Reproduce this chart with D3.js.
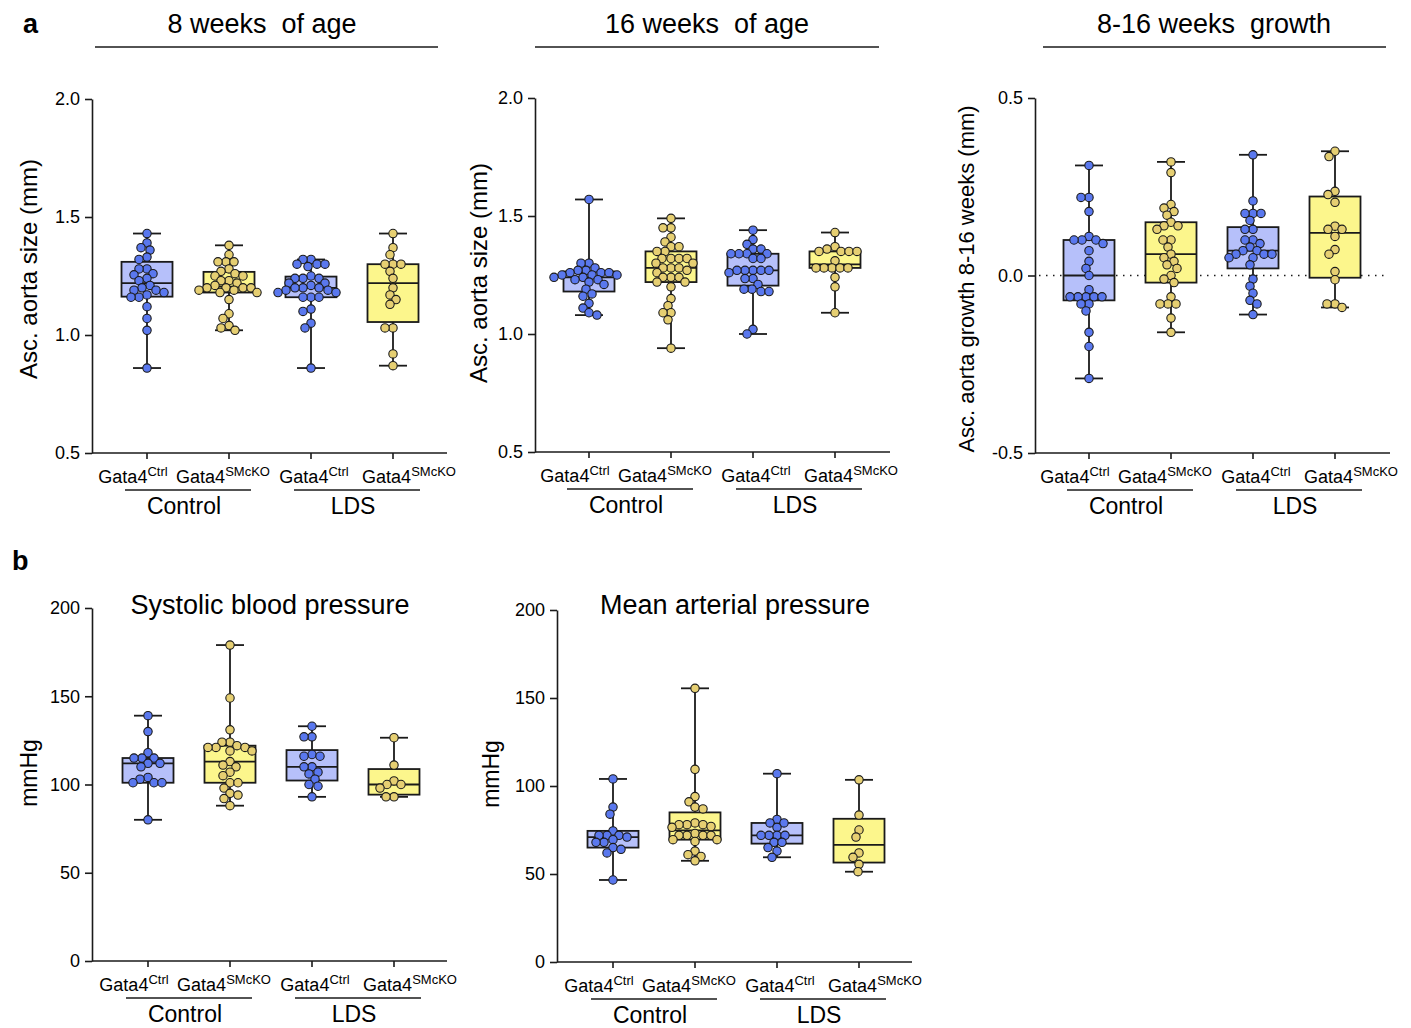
<!DOCTYPE html>
<html>
<head>
<meta charset="utf-8">
<script src="https://cdn.jsdelivr.net/npm/d3@7"></script>
<style>
  body { margin: 0; background: #fff; }
  text { font-family: "Liberation Sans", Arial, sans-serif; fill: #000; }
</style>
</head>
<body>
<div class="chart"></div>
<script>

// ---- data ----

const genotypes = ["Ctrl", "SMcKO", "Ctrl", "SMcKO"];
const groups = ["Control", "LDS"];

// Asc. aorta size at 8 weeks (mm)
const aorta8wk = [
  [1.43, 1.39, 1.37, 1.36, 1.33, 1.32, 1.28, 1.28, 1.26, 1.255, 1.24, 1.23, 1.21, 1.20, 1.19, 1.19, 1.18, 1.17, 1.16, 1.16, 1.12, 1.07, 1.02, 0.86],
  [1.38, 1.34, 1.31, 1.31, 1.31, 1.28, 1.27, 1.26, 1.25, 1.25, 1.23, 1.23, 1.22, 1.21, 1.20, 1.20, 1.20, 1.20, 1.19, 1.19, 1.18, 1.18, 1.15, 1.09, 1.07, 1.04, 1.03, 1.02],
  [1.32, 1.32, 1.30, 1.30, 1.30, 1.29, 1.25, 1.24, 1.24, 1.24, 1.22, 1.22, 1.21, 1.20, 1.20, 1.20, 1.19, 1.19, 1.18, 1.18, 1.16, 1.16, 1.16, 1.11, 1.10, 1.05, 1.03, 0.86],
  [1.43, 1.37, 1.34, 1.30, 1.30, 1.30, 1.27, 1.24, 1.20, 1.17, 1.15, 1.13, 1.03, 1.03, 0.92, 0.87]
];

// Asc. aorta size at 16 weeks (mm)
const aorta16wk = [
  [1.57, 1.30, 1.30, 1.28, 1.27, 1.27, 1.26, 1.26, 1.26, 1.25, 1.25, 1.25, 1.24, 1.24, 1.23, 1.23, 1.22, 1.21, 1.19, 1.17, 1.16, 1.13, 1.11, 1.09, 1.08],
  [1.49, 1.45, 1.45, 1.41, 1.39, 1.37, 1.37, 1.35, 1.35, 1.32, 1.32, 1.32, 1.32, 1.30, 1.30, 1.28, 1.28, 1.28, 1.27, 1.26, 1.24, 1.24, 1.24, 1.22, 1.22, 1.20, 1.15, 1.12, 1.09, 1.09, 1.06, 0.94],
  [1.44, 1.40, 1.38, 1.36, 1.36, 1.34, 1.34, 1.34, 1.34, 1.32, 1.32, 1.27, 1.27, 1.27, 1.27, 1.27, 1.26, 1.235, 1.235, 1.21, 1.19, 1.19, 1.18, 1.18, 1.02, 1.00],
  [1.43, 1.37, 1.36, 1.35, 1.35, 1.35, 1.35, 1.31, 1.28, 1.28, 1.28, 1.28, 1.28, 1.24, 1.20, 1.09]
];

// Asc. aorta growth 8-16 weeks (mm)
const aortaGrowth = [
  [0.31, 0.22, 0.22, 0.18, 0.11, 0.10, 0.10, 0.10, 0.09, 0.07, 0.04, 0.02, 0.00, -0.04, -0.06, -0.06, -0.06, -0.06, -0.06, -0.08, -0.08, -0.10, -0.16, -0.20, -0.29],
  [0.32, 0.29, 0.20, 0.19, 0.18, 0.17, 0.15, 0.14, 0.14, 0.13, 0.10, 0.10, 0.08, 0.06, 0.05, 0.04, 0.03, 0.02, 0.00, -0.01, -0.02, -0.06, -0.08, -0.08, -0.08, -0.12, -0.16],
  [0.34, 0.21, 0.175, 0.175, 0.175, 0.155, 0.13, 0.13, 0.10, 0.10, 0.09, 0.08, 0.07, 0.07, 0.06, 0.06, 0.06, 0.05, 0.05, 0.03, -0.01, -0.03, -0.05, -0.07, -0.08, -0.11],
  [0.35, 0.335, 0.237, 0.228, 0.206, 0.139, 0.13, 0.13, 0.11, 0.073, 0.06, 0.011, -0.012, -0.08, -0.08, -0.09]
];

// Systolic blood pressure (mmHg)
const systolic = [
  [139, 130, 118, 115, 115, 115, 112, 112, 110, 104, 103, 101, 101, 101, 80],
  [179, 149, 131, 124, 124, 122, 121, 121, 121, 119, 119, 113, 111, 110, 107, 105, 101, 101, 98, 95, 94, 92, 88],
  [133, 127, 127, 117, 116, 116, 110, 110, 107, 106, 103, 100, 99, 93],
  [126.5, 111, 102, 100, 100, 98, 93, 93]
];

// Mean arterial pressure (mmHg)
const meanArterial = [
  [104, 88, 84, 74.5, 72, 72, 72, 71, 69.5, 68, 68, 65, 64, 62, 46.6],
  [155.5, 109.5, 94, 91, 88, 87, 79, 78, 78, 78, 77, 76.5, 73, 72, 72, 72, 72, 69.5, 69.5, 68.5, 63, 61, 60, 57.5],
  [107, 81, 79, 79, 76.5, 72, 72, 72, 72, 68, 68, 65, 63, 59.5],
  [103.5, 83.5, 75, 71, 62, 59.5, 55.5, 51.3]
];

// ---- styles ----
const boxFill = ["#b6c0fa", "#fcf68c", "#b6c0fa", "#fcf68c"];
const dotFill = ["#5a78ee", "#e6cf72", "#5a78ee", "#e6cf72"];
const ink = "#1a1a1a";
const dotR = 4.2;

const svg = d3.select(".chart").append("svg")
    .attr("width", 1411)
    .attr("height", 1028);

// quartiles the way Prism computes them (position p*(n+1))
function quart(sorted, p) {
    const n = sorted.length;
    const pos = p * (n + 1);
    if (pos <= 1) return sorted[0];
    if (pos >= n) return sorted[n - 1];
    const lo = Math.floor(pos);
    const f = pos - lo;
    return sorted[lo - 1] + f * (sorted[lo] - sorted[lo - 1]);
}

// simple swarm: place each dot at the smallest offset that does not overlap
function swarm(values, y) {
    const placed = [];
    const minD = 7.4;
    const order = values.slice().sort((a, b) => b - a);
    order.forEach(v => {
        const py = y(v);
        let off = 0;
        for (let k = 0; k < 200; k++) {
            const cand = (k % 2 === 0 ? 1 : -1) * Math.ceil(k / 2);
            const ok = placed.every(p => Math.hypot(p.dx - cand, p.y - py) >= minD);
            if (ok) { off = cand; break; }
        }
        placed.push({v: v, y: py, dx: off});
    });
    return placed;
}

function drawPanel(cfg, data) {
    const g = svg.append("g");

    const y = d3.scaleLinear().domain(cfg.domain).range([cfg.yBot, cfg.yTop]);
    const x = d3.scaleBand().domain(d3.range(4)).range(cfg.band);
    const cx = i => x(i) + x.bandwidth() / 2;
    const boxW = 51;

    // y axis
    const yAxis = d3.axisLeft(y)
        .tickValues(cfg.ticks)
        .tickFormat(d => cfg.fmt(d).replace("\u2212", "-"))
        .tickSize(7)
        .tickSizeOuter(0)
        .tickPadding(5);

    const ya = g.append("g")
        .attr("transform", `translate(${cfg.x0},0)`)
        .call(yAxis);
    ya.select(".domain").attr("stroke", ink).attr("stroke-width", 1.6);
    ya.selectAll(".tick line").attr("stroke", ink).attr("stroke-width", 1.6);
    ya.selectAll(".tick text")
        .attr("font-size", 18)
        .attr("font-family", '"Liberation Sans", Arial, sans-serif')
        .attr("fill", "#000");

    // x axis line + ticks at categories
    g.append("line")
        .attr("x1", cfg.x0).attr("x2", cfg.x1)
        .attr("y1", cfg.yBot).attr("y2", cfg.yBot)
        .attr("stroke", ink).attr("stroke-width", 1.6);
    g.selectAll(".xtick").data(d3.range(4)).enter().append("line")
        .attr("x1", d => cx(d)).attr("x2", d => cx(d))
        .attr("y1", cfg.yBot).attr("y2", cfg.yBot + 6)
        .attr("stroke", ink).attr("stroke-width", 1.6);

    // dotted zero line
    if (cfg.zeroLine) {
        g.append("line")
            .attr("x1", cfg.x0 + 4).attr("x2", cfg.x1 - 4)
            .attr("y1", y(0)).attr("y2", y(0))
            .attr("stroke", ink).attr("stroke-width", 1.3)
            .attr("stroke-dasharray", "1.5,5.5");
    }

    // boxes
    data.forEach((vals, i) => {
        const s = vals.slice().sort(d3.ascending);
        const q1 = quart(s, 0.25), med = quart(s, 0.5), q3 = quart(s, 0.75);
        const lo = s[0], hi = s[s.length - 1];
        const c = cx(i);

        g.append("line")
            .attr("x1", c).attr("x2", c)
            .attr("y1", y(hi)).attr("y2", y(lo))
            .attr("stroke", ink).attr("stroke-width", 1.8);
        [hi, lo].forEach(v => {
            g.append("line")
                .attr("x1", c - 14).attr("x2", c + 14)
                .attr("y1", y(v)).attr("y2", y(v))
                .attr("stroke", ink).attr("stroke-width", 1.8);
        });
        g.append("rect")
            .attr("x", c - boxW / 2).attr("width", boxW)
            .attr("y", y(q3)).attr("height", y(q1) - y(q3))
            .attr("fill", boxFill[i])
            .attr("stroke", ink).attr("stroke-width", 1.8);
        g.append("line")
            .attr("x1", c - boxW / 2).attr("x2", c + boxW / 2)
            .attr("y1", y(med)).attr("y2", y(med))
            .attr("stroke", ink).attr("stroke-width", 1.8);

        g.selectAll(null).data(swarm(vals, y)).enter().append("circle")
            .attr("cx", d => c + d.dx)
            .attr("cy", d => d.y)
            .attr("r", dotR)
            .attr("fill", dotFill[i])
            .attr("stroke", ink)
            .attr("stroke-width", 1.1);
    });

    // category labels
    const labOff = [-14, -6, 3, 16];
    genotypes.forEach((gt, i) => {
        const t = g.append("text")
            .attr("x", cx(i) + labOff[i])
            .attr("y", cfg.yBot + 30)
            .attr("text-anchor", "middle")
            .attr("font-size", 18);
        t.append("tspan").text("Gata4");
        t.append("tspan").attr("font-size", 13).attr("dy", -7).text(gt);
    });

    // group brackets
    groups.forEach((grp, k) => {
        const mid = (cx(2 * k) + cx(2 * k + 1)) / 2 + (k === 0 ? 0 : 5);
        g.append("line")
            .attr("x1", mid - 63).attr("x2", mid + 63)
            .attr("y1", cfg.yBot + 37).attr("y2", cfg.yBot + 37)
            .attr("stroke", ink).attr("stroke-width", 1.6);
        g.append("text")
            .attr("x", mid - 4)
            .attr("y", cfg.yBot + 61)
            .attr("text-anchor", "middle")
            .attr("font-size", 23)
            .text(grp);
    });

    // y label
    g.append("text")
        .attr("transform", `translate(${cfg.labX},${cfg.labY}) rotate(-90)`)
        .attr("text-anchor", "middle")
        .attr("font-size", cfg.labSize)
        .text(cfg.ylabel);

    // titles
    if (cfg.title) {
        g.append("text")
            .attr("x", cfg.titleX).attr("y", cfg.titleY)
            .attr("text-anchor", "middle")
            .attr("font-size", 27)
            .style("white-space", "pre")
            .text(cfg.title);
    }
    if (cfg.rule) {
        g.append("line")
            .attr("x1", cfg.rule[0]).attr("x2", cfg.rule[1])
            .attr("y1", 47).attr("y2", 47)
            .attr("stroke", ink).attr("stroke-width", 1.6);
    }
}

const f1 = d3.format(".1f");
const f0 = d3.format("d");

drawPanel({x0: 92, x1: 447, yTop: 99, yBot: 453, domain: [0.5, 2.0], ticks: [0.5, 1.0, 1.5, 2.0], fmt: f1,
    band: [106, 434], ylabel: "Asc. aorta size (mm)", labX: 37, labY: 269, labSize: 24,
    title: "8 weeks  of age", titleX: 262, titleY: 33, rule: [95, 438]}, aorta8wk);

drawPanel({x0: 535, x1: 890, yTop: 98, yBot: 452, domain: [0.5, 2.0], ticks: [0.5, 1.0, 1.5, 2.0], fmt: f1,
    band: [548, 876], ylabel: "Asc. aorta size (mm)", labX: 487, labY: 273, labSize: 24,
    title: "16 weeks  of age", titleX: 707, titleY: 33, rule: [535, 879]}, aorta16wk);

drawPanel({x0: 1035, x1: 1390, yTop: 98, yBot: 453, domain: [-0.5, 0.5], ticks: [-0.5, 0.0, 0.5], fmt: f1,
    band: [1048, 1376], ylabel: "Asc. aorta growth 8-16 weeks (mm)", labX: 974, labY: 279, labSize: 22, zeroLine: true,
    title: "8-16 weeks  growth", titleX: 1214, titleY: 33, rule: [1043, 1386]}, aortaGrowth);

drawPanel({x0: 92, x1: 447, yTop: 608, yBot: 961, domain: [0, 200], ticks: [0, 50, 100, 150, 200], fmt: f0,
    band: [107, 435], ylabel: "mmHg", labX: 37, labY: 773, labSize: 23,
    title: "Systolic blood pressure", titleX: 270, titleY: 614}, systolic);

drawPanel({x0: 557, x1: 912, yTop: 610, yBot: 962, domain: [0, 200], ticks: [0, 50, 100, 150, 200], fmt: f0,
    band: [572, 900], ylabel: "mmHg", labX: 499, labY: 774, labSize: 23,
    title: "Mean arterial pressure", titleX: 735, titleY: 614}, meanArterial);

// panel letters
svg.append("text").attr("x", 23).attr("y", 33)
    .attr("font-size", 27).attr("font-weight", "bold").text("a");
svg.append("text").attr("x", 12).attr("y", 570)
    .attr("font-size", 27).attr("font-weight", "bold").text("b");

</script>
</body>
</html>
